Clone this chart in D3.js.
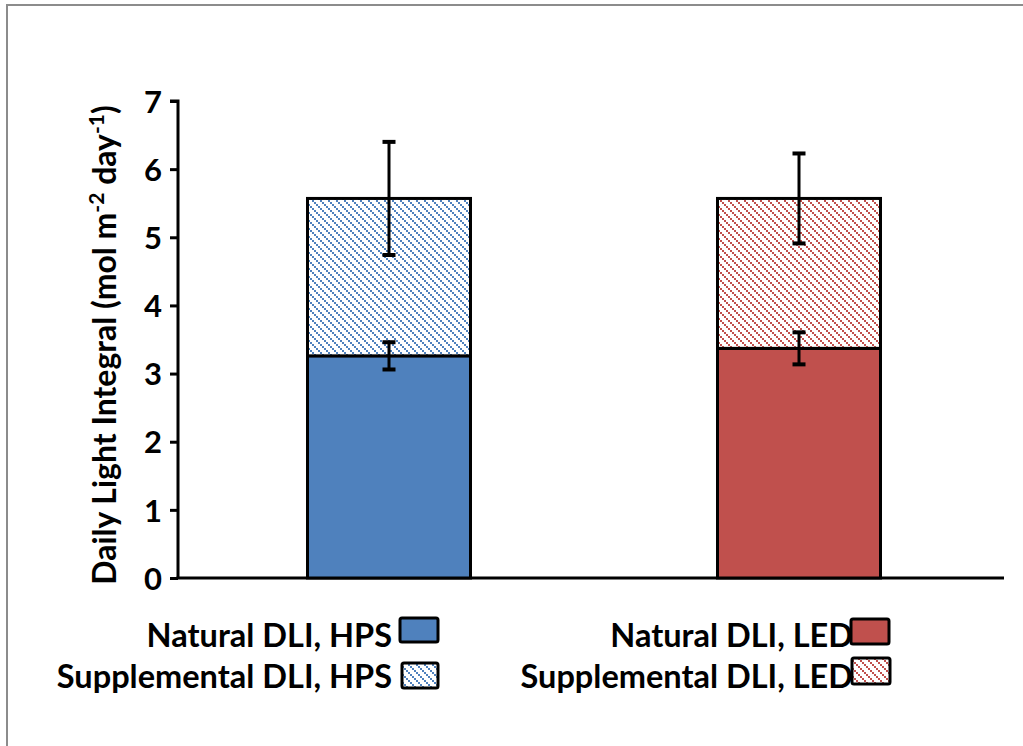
<!DOCTYPE html>
<html>
<head>
<meta charset="utf-8">
<script src="https://cdn.jsdelivr.net/npm/d3@7"></script>
<style>
  html, body { margin: 0; padding: 0; background: #fff; }
  svg { display: block; }
  text { font-family: Lato, "Open Sans", sans-serif; font-weight: bold; fill: #000; }
</style>
</head>
<body>
<svg id="chart" width="1023" height="746"></svg>
<script>
// ---- data ----
const categories = ["HPS", "LED"];
const naturalDLI = [3.26, 3.37];
const supplementalDLI = [2.31, 2.20];
const naturalErr = [0.20, 0.235];
const supplementalErr = [0.83, 0.66];
const yTicks = [0, 1, 2, 3, 4, 5, 6, 7];
const colors = ["#4F81BD", "#C0504D"];
const legendLabels = [
  ["Natural DLI, HPS", "Supplemental DLI, HPS"],
  ["Natural DLI, LED", "Supplemental DLI, LED"]
];

const svg = d3.select("#chart");

// border
svg.append("rect").attr("x", 7).attr("y", 5).attr("width", 1040).attr("height", 780)
  .attr("fill", "none").attr("stroke", "#8c8c8c").attr("stroke-width", 2);

// patterns
const defs = svg.append("defs");
colors.forEach((c, i) => {
  const p = defs.append("pattern").attr("id", "hatch" + i)
    .attr("patternUnits", "userSpaceOnUse").attr("width", 8).attr("height", 8);
  p.append("rect").attr("width", 8).attr("height", 8).attr("fill", "#fff");
  [0, 2, 4, 6].forEach(k => {
    p.append("rect").attr("x", k).attr("y", k).attr("width", 2).attr("height", 2).attr("fill", c);
  });
});

const y = d3.scaleLinear().domain([0, 7]).range([578, 101]);
const x = d3.scaleBand().domain(categories).range([184, 1004]).paddingInner(0.6).paddingOuter(0.3);
const bw = 163;
const cx = c => x(c) + x.bandwidth() / 2;

// y axis
const yAxis = d3.axisLeft(y).tickValues(yTicks).tickSize(8).tickPadding(8).tickFormat(d3.format("d"));
const gy = svg.append("g").attr("transform", "translate(178,0)").call(yAxis);
gy.select(".domain").attr("stroke", "#000").attr("stroke-width", 3).attr("d", "M-8,101H0V578");
gy.selectAll(".tick line").attr("stroke", "#000").attr("stroke-width", 3);
gy.selectAll(".tick text").style("font-size", "31px").attr("dy", "0.36em");

// x axis line
svg.append("line").attr("x1", 176.5).attr("x2", 1004).attr("y1", 578).attr("y2", 578)
  .attr("stroke", "#000").attr("stroke-width", 3);

// bars
categories.forEach((c, i) => {
  const left = cx(c) - bw / 2;
  const nTop = naturalDLI[i];
  const sTop = naturalDLI[i] + supplementalDLI[i];
  svg.append("rect").attr("x", left).attr("width", bw)
    .attr("y", y(nTop)).attr("height", y(0) - y(nTop))
    .attr("fill", colors[i]).attr("stroke", "#000").attr("stroke-width", 3);
  svg.append("rect").attr("x", left).attr("width", bw)
    .attr("y", y(sTop)).attr("height", y(nTop) - y(sTop))
    .attr("fill", "url(#hatch" + i + ")").attr("stroke", "#000").attr("stroke-width", 3);
});

// error bars
function errBar(xc, v, e) {
  const g = svg.append("g").attr("stroke", "#000");
  g.append("line").attr("x1", xc).attr("x2", xc).attr("y1", y(v + e)).attr("y2", y(v - e)).attr("stroke-width", 3);
  [v + e, v - e].forEach(t => {
    g.append("line").attr("x1", xc - 6.5).attr("x2", xc + 6.5).attr("y1", y(t)).attr("y2", y(t)).attr("stroke-width", 4);
  });
}
categories.forEach((c, i) => {
  errBar(cx(c), naturalDLI[i], naturalErr[i]);
  errBar(cx(c), naturalDLI[i] + supplementalDLI[i], supplementalErr[i]);
});

// y title
const yt = svg.append("text").attr("transform", "translate(116,345) rotate(-90)")
  .attr("text-anchor", "middle").style("font-size", "32px");
yt.append("tspan").text("Daily Light Integral (mol m");
yt.append("tspan").text("-2").attr("baseline-shift", "super").style("font-size", "21px");
yt.append("tspan").text(" day");
yt.append("tspan").text("-1").attr("baseline-shift", "super").style("font-size", "21px");
yt.append("tspan").text(")");

// legend
const legendPos = [
  [{tx: 392, ty: 647, sx: 400, sy: 618, sw: 38, sh: 24}, {tx: 392, ty: 688, sx: 402, sy: 663, sw: 36, sh: 25}],
  [{tx: 853, ty: 647, sx: 851, sy: 619, sw: 38, sh: 25}, {tx: 853, ty: 688, sx: 852, sy: 658, sw: 38, sh: 26}]
];
categories.forEach((c, i) => {
  [0, 1].forEach(k => {
    const p = legendPos[i][k];
    svg.append("text").attr("x", p.tx).attr("y", p.ty).attr("text-anchor", "end")
      .style("font-size", "32.5px").text(legendLabels[i][k]);
    svg.append("rect").attr("x", p.sx).attr("y", p.sy).attr("width", p.sw).attr("height", p.sh)
      .attr("rx", 2).attr("fill", k === 0 ? colors[i] : "url(#hatch" + i + ")")
      .attr("stroke", "#000").attr("stroke-width", 3);
  });
});
</script>
</body>
</html>
